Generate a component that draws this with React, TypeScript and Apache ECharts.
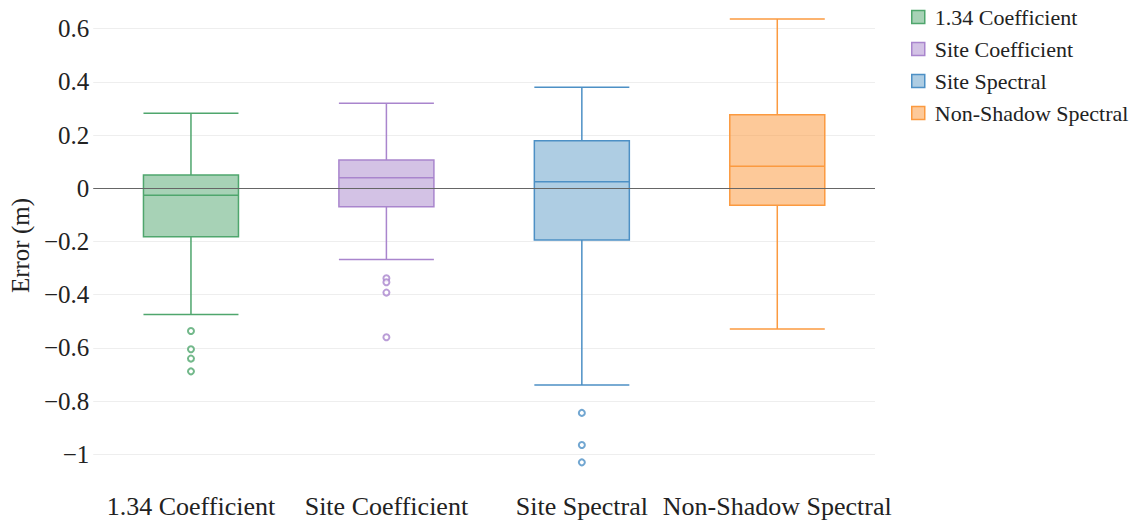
import React, { useEffect, useRef } from "react";
import * as echarts from "echarts";

const categories = ["1.34 Coefficient", "Site Coefficient", "Site Spectral", "Non-Shadow Spectral"];
// [lower whisker, Q1, median, Q3, upper whisker]
const boxCoef134 = [-0.474, -0.182, -0.026, 0.05, 0.282];
const boxSiteCoef = [-0.268, -0.069, 0.04, 0.106, 0.32];
const boxSiteSpec = [-0.739, -0.194, 0.025, 0.179, 0.38];
const boxNonShadow = [-0.529, -0.064, 0.083, 0.276, 0.636];
const outCoef134 = [-0.536, -0.605, -0.64, -0.688];
const outSiteCoef = [-0.338, -0.353, -0.392, -0.56];
const outSiteSpec = [-0.844, -0.965, -1.03];
const outNonShadow: number[] = [];

const strokes = ["#4fa66d", "#a985cd", "#4d90c5", "#fb9a40"];
const fills = ["rgba(79,166,109,0.5)", "rgba(167,133,203,0.5)", "rgba(93,155,199,0.5)", "rgba(251,147,51,0.5)"];

const boxes = [boxCoef134, boxSiteCoef, boxSiteSpec, boxNonShadow];
const outliers = [outCoef134, outSiteCoef, outSiteSpec, outNonShadow];

const FONT = "Liberation Serif";

export default function App() {
  const ref = useRef<HTMLDivElement>(null);
  useEffect(() => {
    if (!ref.current) return;
    const chart = echarts.init(ref.current, undefined, { renderer: "svg" });
    const xAxes = categories.map((_, i) => ({
      type: "category",
      data: categories,
      gridIndex: 0,
      show: i === 0,
      axisLine: { show: false },
      axisTick: { show: false },
      splitLine: { show: false },
      axisLabel: {
        show: i === 0,
        interval: 0,
        fontFamily: FONT,
        fontSize: 26,
        color: "#222",
        margin: 12,
      },
    }));
    const series: any[] = [];
    categories.forEach((name, i) => {
      series.push({
        name,
        type: "boxplot",
        xAxisIndex: i,
        boxWidth: [95, 95],
        data: categories.map((_, j) => (j === i ? boxes[i] : "-")),
        itemStyle: { color: fills[i], borderColor: strokes[i], borderWidth: 1.5 },
        emphasis: { disabled: true },
        markLine:
          i === 0
            ? {
                silent: true,
                symbol: "none",
                label: { show: false },
                lineStyle: { color: "#666", width: 1, type: "solid" },
                data: [{ yAxis: 0 }],
              }
            : undefined,
        z: 3,
      });
      series.push({
        name,
        type: "scatter",
        xAxisIndex: i,
        symbol: "emptyCircle",
        symbolSize: 6,
        itemStyle: { color: strokes[i], borderColor: strokes[i], borderWidth: 1.5 },
        data: outliers[i].map((v) => [categories[i], v]),
        z: 4,
      });
    });
    chart.setOption({
      animation: false,
      backgroundColor: "#fff",
      grid: { left: 93, right: 260, top: 10, bottom: 48 },
      legend: {
        orient: "vertical",
        left: 906,
        top: 1,
        itemWidth: 13,
        itemHeight: 13,
        itemGap: 10,
        textStyle: { fontFamily: FONT, fontSize: 22, color: "#222", padding: [0, 0, 0, 5] },
        data: categories.map((name, i) => ({
          name,
          icon: "rect",
          itemStyle: { color: fills[i], borderColor: strokes[i], borderWidth: 1.5 },
        })),
      },
      xAxis: xAxes,
      yAxis: {
        type: "value",
        min: -1.1,
        max: 0.67,
        splitNumber: 9,
        name: "Error (m)",
        nameLocation: "middle",
        nameGap: 60,
        nameTextStyle: { fontFamily: FONT, fontSize: 25, color: "#222" },
        axisLine: { show: false },
        axisTick: { show: false },
        splitLine: {
          showMinLine: false,
          showMaxLine: false,
          lineStyle: { color: "#eeeeee", width: 1 },
        },
        axisLabel: {
          fontFamily: FONT,
          fontSize: 25,
          color: "#222",
          margin: 4,
          showMinLabel: false,
          showMaxLabel: false,
          formatter: (v: number) => {
            const r = Math.round(v * 10) / 10;
            if (Math.abs(r - v) > 1e-6) return "";
            if (r === 0) return "0";
            return r < 0 ? "\u2212" + String(Math.abs(r)) : String(r);
          },
        },
      },
      series,
    });
    return () => chart.dispose();
  }, []);
  return (
    <div
      ref={ref}
      style={{ position: "fixed", left: 0, top: 0, width: 1135, height: 529 }}
    />
  );
}
